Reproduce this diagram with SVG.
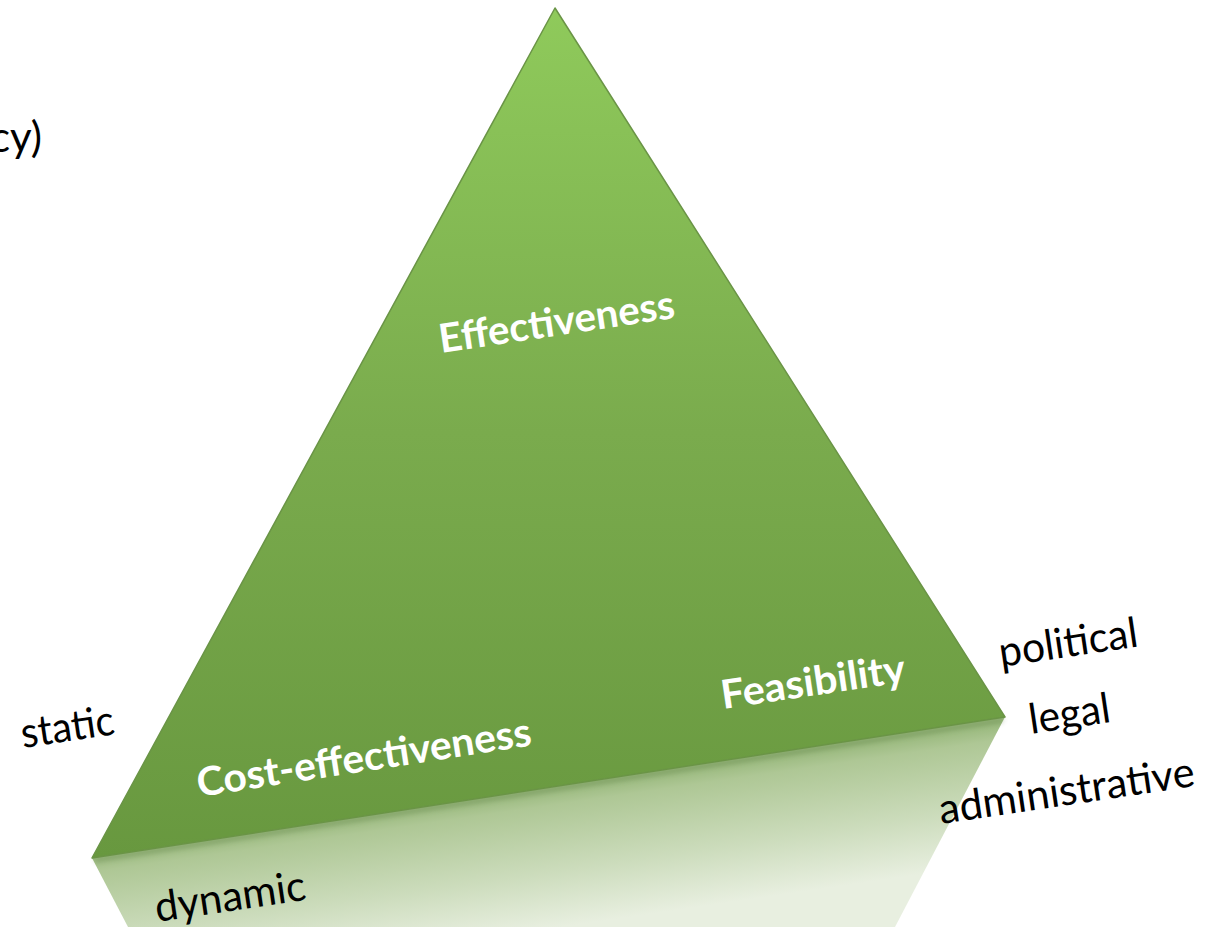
<svg xmlns="http://www.w3.org/2000/svg" width="1214" height="927" viewBox="0 0 1214 927">
<defs>
<linearGradient id="triFill" gradientUnits="userSpaceOnUse" x1="0" y1="8" x2="0" y2="858">
<stop offset="0" stop-color="#8fca5b"/>
<stop offset="0.5" stop-color="#7aab4d"/>
<stop offset="1" stop-color="#68983f"/>
</linearGradient>
<linearGradient id="refFill" gradientUnits="userSpaceOnUse" x1="540" y1="790" x2="560" y2="927">
<stop offset="0" stop-color="#98b87c"/>
<stop offset="0.12" stop-color="#aec795"/>
<stop offset="0.6" stop-color="#ccdcbc"/>
<stop offset="1" stop-color="#e8efe0"/>
</linearGradient>
<filter id="blur" x="-5%" y="-50%" width="110%" height="200%">
<feGaussianBlur stdDeviation="2.5"/>
</filter>
</defs>
<style>
.lbl{font-family:Lato,"Liberation Sans",sans-serif;font-size:42px;fill:#000}
.in{font-family:Lato,"Liberation Sans",sans-serif;font-weight:bold;font-size:40px;fill:#fff}
</style>
<g id="reflection">
<polygon points="92,858 1005,717 895,927 128,927" fill="url(#refFill)"/>
<line x1="95" y1="860" x2="1003" y2="720" stroke="#5d7f44" stroke-width="4" opacity="0.45" filter="url(#blur)"/>
</g>
<g id="triangle">
<polygon points="555,8 1005,717 92,858" fill="url(#triFill)" stroke="#6a9446" stroke-width="1.5" stroke-linejoin="round"/>
</g>
<g id="effectiveness">
<text class="in" transform="translate(441,353) rotate(-8.5)" textLength="238" lengthAdjust="spacingAndGlyphs">Effectiveness</text>
</g>
<g id="cost-effectiveness">
<text class="in" transform="translate(199,797) rotate(-8.8)" textLength="338" lengthAdjust="spacingAndGlyphs">Cost-effectiveness</text>
</g>
<g id="feasibility">
<text class="in" transform="translate(723,709) rotate(-8.4)" textLength="186" lengthAdjust="spacingAndGlyphs">Feasibility</text>
</g>
<g id="labels">
<text class="lbl" text-anchor="end" x="42" y="152">cy)</text>
<text class="lbl" transform="translate(23,748) rotate(-8.5)" textLength="94" lengthAdjust="spacingAndGlyphs">static</text>
<text class="lbl" transform="translate(157,922) rotate(-8.5)" textLength="152" lengthAdjust="spacingAndGlyphs">dynamic</text>
<text class="lbl" transform="translate(1001,667) rotate(-8.5)" textLength="140" lengthAdjust="spacingAndGlyphs">political</text>
<text class="lbl" transform="translate(1031,734) rotate(-8.5)" textLength="82" lengthAdjust="spacingAndGlyphs">legal</text>
<text class="lbl" transform="translate(941,824) rotate(-8.5)" textLength="258" lengthAdjust="spacingAndGlyphs">administrative</text>
</g>
<g id="connectors"/>
</svg>
